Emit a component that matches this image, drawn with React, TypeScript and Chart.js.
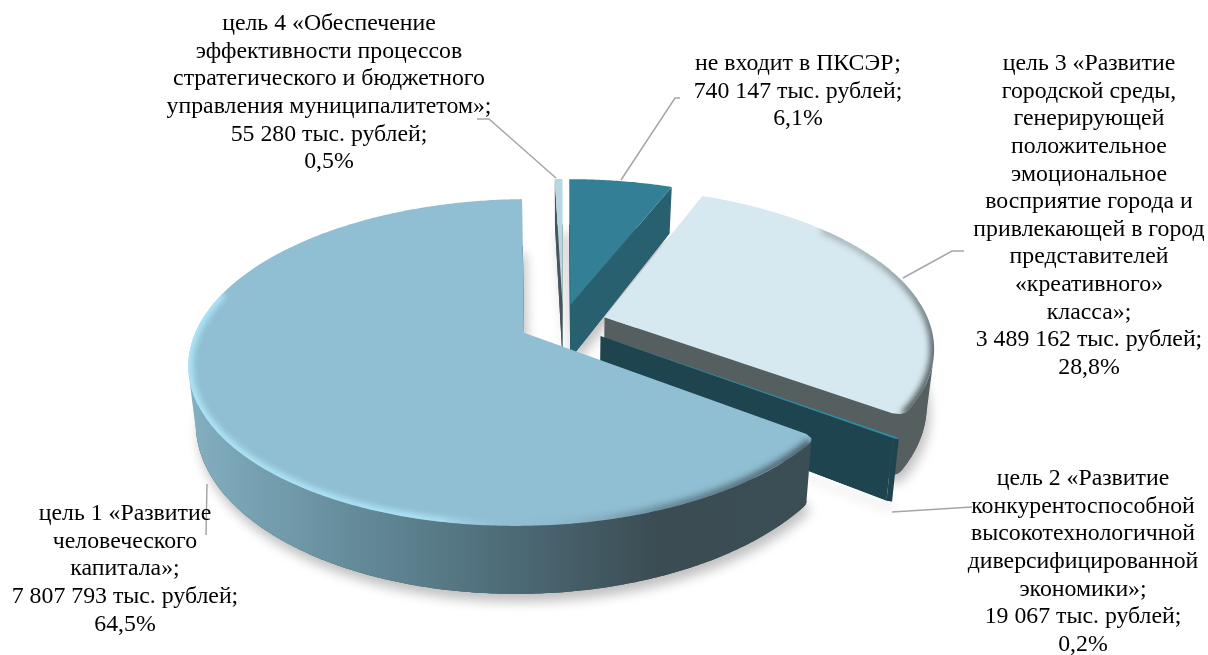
import React, { useEffect, useRef } from "react";
import { Chart, registerables } from "chart.js";

Chart.register(...registerables);

// Data, in the clockwise order of the pie starting from 12 o'clock
const categories = ["не входит в ПКСЭР", "цель 3", "цель 2", "цель 1", "цель 4"];
const values = [740147, 3489162, 19067, 7807793, 55280];
const topColors = ["#337F96", "#D7E9F0", "#2C8DA6", "#90BED2", "#B9D6E3"];
const cutColors = ["#28606F", "#565F60", "#1E4450", "#3D4F56", "#44555B"];
const explode = [37, 41, 43, 41, 37];
const drawOrder = [4, 0, 1, 2, 3];
// which ends of each slice have a rounded front corner: [start, end]
const roundEnds = [[false, false], [false, true], [true, true], [true, false], [false, false]];

const labelLines: string[][] = [
  ["не входит в ПКСЭР;", "740 147 тыс. рублей;", "6,1%"],
  ["цель 3 «Развитие", "городской среды,", "генерирующей", "положительное", "эмоциональное", "восприятие города и", "привлекающей в город", "представителей", "«креативного»", "класса»;", "3 489 162 тыс. рублей;", "28,8%"],
  ["цель 2 «Развитие", "конкурентоспособной", "высокотехнологичной", "диверсифицированной", "экономики»;", "19 067 тыс. рублей;", "0,2%"],
  ["цель 1 «Развитие", "человеческого", "капитала»;", "7 807 793 тыс. рублей;", "64,5%"],
  ["цель 4 «Обеспечение", "эффективности процессов", "стратегического и бюджетного", "управления муниципалитетом»;", "55 280 тыс. рублей;", "0,5%"],
];
const labelAnchors = [
  [798, 64], [1089, 64], [1083, 479], [125, 514], [329, 24],
];
const leaders: number[][][] = [
  [[680, 98], [675, 98], [621, 180]],
  [[964, 251], [952, 251], [903, 278]],
  [[972, 507], [892, 512]],
  [[207, 484], [206, 535]],
  [[477, 119], [489, 119], [556, 178]],
];

// Projection of the pie plane
const CX = 563, CY = 323, K = 325, KQ = 154.5, P = 0.18, H = 55, SHRINK = 0.98;
const CORNER_SPAN = 0.04, CORNER_CUT = 0.03;

type Pt = { X: number; Y: number; X2: number; Y2: number };

function project(x: number, y: number): Pt {
  const w = 1 - P * y;
  const X = CX + (K * x) / w;
  const Y = CY + (KQ * y) / w;
  return { X, Y, X2: CX + (X - CX) * SHRINK, Y2: Y + H / w };
}

function outline(el: any, idx: number) {
  const { startAngle, endAngle, outerRadius } = el.getProps(["startAngle", "endAngle", "outerRadius"], true);
  const off = (el.options.offset || 0) / outerRadius;
  const mid = (startAngle + endAngle) / 2;
  const ax = Math.cos(mid) * off, ay = Math.sin(mid) * off;
  const n = Math.max(8, Math.ceil((endAngle - startAngle) / 0.01));
  const arc: Pt[] = [];
  const [rs, re] = roundEnds[idx];
  for (let i = 0; i <= n; i++) {
    const t = startAngle + ((endAngle - startAngle) * i) / n;
    let r = 1;
    const cut = (d: number) => {
      if (d < CORNER_SPAN) {
        const u = 1 - d / CORNER_SPAN;
        r = Math.min(r, 1 - CORNER_CUT * (1 - Math.sqrt(1 - u * u)));
      }
    };
    if (rs) cut(t - startAngle);
    if (re) cut(endAngle - t);
    arc.push(project(ax + r * Math.cos(t), ay + r * Math.sin(t)));
  }
  return { apex: project(ax, ay), arc, ax, ay, startAngle, endAngle };
}

function poly(ctx: CanvasRenderingContext2D, pts: number[][]) {
  ctx.beginPath();
  pts.forEach((p, i) => (i ? ctx.lineTo(p[0], p[1]) : ctx.moveTo(p[0], p[1])));
  ctx.closePath();
}

function addQuad(ctx: CanvasRenderingContext2D, a: Pt, b: Pt) {
  const q = [[a.X, a.Y], [b.X, b.Y], [b.X2, b.Y2], [a.X2, a.Y2]];
  let area = 0;
  for (let i = 0; i < 4; i++) {
    const u = q[i], v = q[(i + 1) % 4];
    area += u[0] * v[1] - v[0] * u[1];
  }
  if (area >= 0) return;
  q.forEach((p, i) => (i ? ctx.lineTo(p[0], p[1]) : ctx.moveTo(p[0], p[1])));
  ctx.closePath();
}

function wallStyle(ctx: CanvasRenderingContext2D, idx: number) {
  if (idx === 3) {
    const g = ctx.createLinearGradient(187, 0, 815, 0);
    g.addColorStop(0, "#83B0C2");
    g.addColorStop(0.25, "#668D9C");
    g.addColorStop(0.52, "#4C6A76");
    g.addColorStop(0.75, "#3B4C53");
    g.addColorStop(1, "#3C4E55");
    return g;
  }
  return cutColors[idx];
}

function rim(ctx: CanvasRenderingContext2D, o: any, from: number, to: number, style: any, width: number, blur: number) {
  const topPts = [[o.apex.X, o.apex.Y], ...o.arc.map((p: Pt) => [p.X, p.Y])];
  ctx.save();
  poly(ctx, topPts);
  ctx.clip();
  ctx.filter = `blur(${blur}px)`;
  ctx.beginPath();
  const n = 80;
  for (let i = 0; i <= n; i++) {
    const deg = from + ((to - from) * i) / n;
    const t = ((deg - 90) * Math.PI) / 180;
    const p = project(o.ax + Math.cos(t), o.ay + Math.sin(t));
    i ? ctx.lineTo(p.X, p.Y) : ctx.moveTo(p.X, p.Y);
  }
  ctx.strokeStyle = style;
  ctx.lineWidth = width;
  ctx.stroke();
  ctx.restore();
}

const pie3d = {
  id: "pie3d",
  beforeDatasetsDraw(chart: any) {
    const ctx: CanvasRenderingContext2D = chart.ctx;
    const meta = chart.getDatasetMeta(0);
    drawOrder.forEach((idx) => {
      const el = meta.data[idx];
      const o = outline(el, idx);
      const ring = [o.apex, ...o.arc];
      // soft shadow under the slice
      ctx.save();
      ctx.shadowColor = "rgba(0,0,0,0.25)";
      ctx.shadowBlur = 12;
      ctx.shadowOffsetX = 3;
      ctx.shadowOffsetY = 8;
      poly(ctx, ring.map((p) => [p.X2, p.Y2]));
      ctx.fillStyle = cutColors[idx];
      ctx.fill();
      ctx.restore();
      // cut faces
      ctx.beginPath();
      addQuad(ctx, o.apex, o.arc[0]);
      addQuad(ctx, o.arc[o.arc.length - 1], o.apex);
      ctx.fillStyle = cutColors[idx];
      ctx.fill();
      // outer wall, one path so there are no seams
      ctx.beginPath();
      for (let i = 0; i < o.arc.length - 1; i++) addQuad(ctx, o.arc[i], o.arc[i + 1]);
      ctx.fillStyle = wallStyle(ctx, idx);
      ctx.fill();
      // top face
      poly(ctx, ring.map((p) => [p.X, p.Y]));
      ctx.fillStyle = el.options.backgroundColor;
      ctx.fill();
      // bevels
      if (idx === 3) {
        const g = ctx.createLinearGradient(187, 0, 815, 0);
        g.addColorStop(0, "rgba(176,232,250,1)");
        g.addColorStop(0.4, "rgba(176,232,250,0.9)");
        g.addColorStop(0.52, "rgba(144,190,210,0)");
        g.addColorStop(0.75, "rgba(60,80,90,0.5)");
        g.addColorStop(1, "rgba(60,80,90,0.9)");
        rim(ctx, o, 128, 285, g, 9, 3);
      }
      if (idx === 1) {
        const g = ctx.createLinearGradient(0, 250, 0, 410);
        g.addColorStop(0, "rgba(70,80,82,0.35)");
        g.addColorStop(0.6, "rgba(70,80,82,0.95)");
        g.addColorStop(1, "rgba(70,80,82,1)");
        rim(ctx, o, 50, 125, g, 8, 3);
      }
    });
    return false;
  },
  afterDraw(chart: any) {
    const ctx: CanvasRenderingContext2D = chart.ctx;
    ctx.save();
    ctx.strokeStyle = "#A6A6A6";
    ctx.lineWidth = 1.5;
    leaders.forEach((l) => {
      ctx.beginPath();
      l.forEach((p, i) => (i ? ctx.lineTo(p[0], p[1]) : ctx.moveTo(p[0], p[1])));
      ctx.stroke();
    });
    ctx.fillStyle = "#000";
    ctx.font = "23.8px 'Liberation Serif'";
    ctx.textAlign = "center";
    ctx.textBaseline = "middle";
    labelLines.forEach((lines, i) => {
      lines.forEach((t, j) => ctx.fillText(t, labelAnchors[i][0], labelAnchors[i][1] + j * 27.6));
    });
    ctx.restore();
  },
};

export default function App() {
  const ref = useRef<HTMLCanvasElement>(null);
  useEffect(() => {
    const chart = new Chart(ref.current!, {
      type: "pie",
      data: {
        labels: categories,
        datasets: [{ data: values, backgroundColor: topColors, borderWidth: 0, offset: explode } as any],
      },
      options: {
        responsive: false,
        animation: false,
        devicePixelRatio: 1,
        rotation: 0,
        plugins: { legend: { display: false }, tooltip: { enabled: false } },
      },
      plugins: [pie3d as any],
    });
    return () => chart.destroy();
  }, []);
  return (
    <div style={{ position: "fixed", left: 0, top: 0, width: 1208, height: 655, background: "#fff" }}>
      <canvas ref={ref} width={1208} height={655} style={{ display: "block" }} />
    </div>
  );
}
